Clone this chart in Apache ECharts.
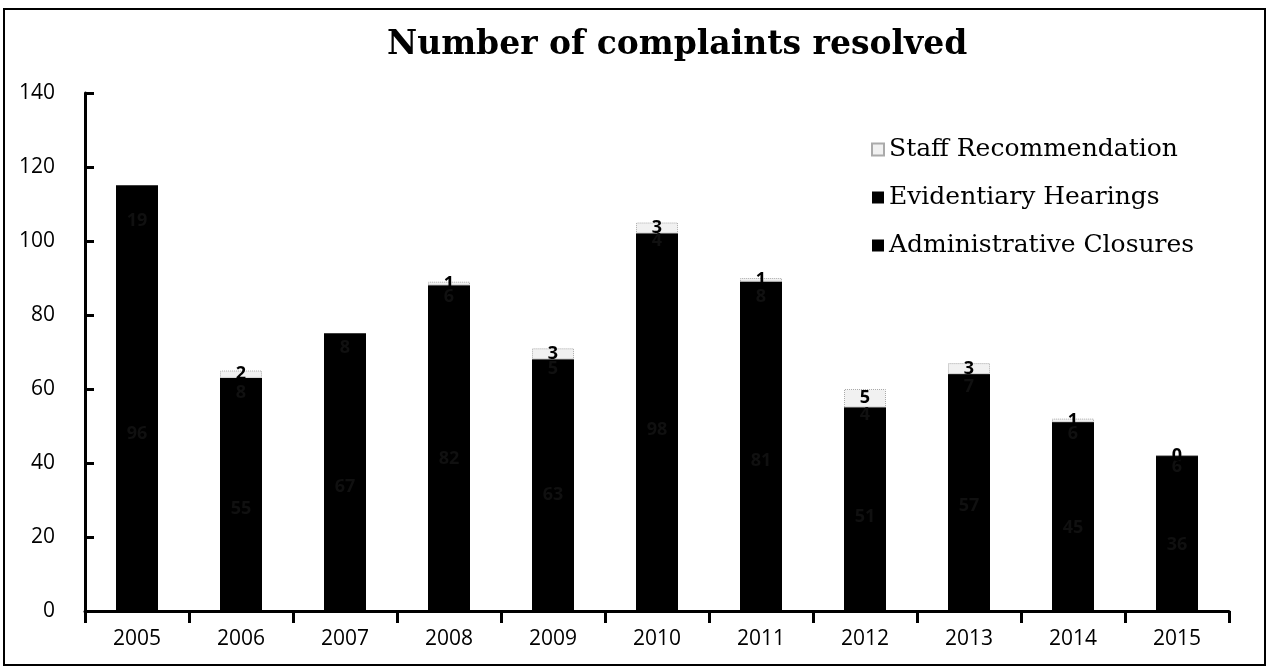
<!DOCTYPE html>
<html>
<head>
<meta charset="utf-8">
<script src="https://cdn.jsdelivr.net/npm/echarts@6/dist/echarts.min.js"></script>
<style>
html,body{margin:0;padding:0;background:#fff;}
#chart{width:1269px;height:667px;}
</style>
</head>
<body>
<div id="chart"></div>
<script>
const years = ['2005','2006','2007','2008','2009','2010','2011','2012','2013','2014','2015'];
const administrativeClosures = [96, 55, 67, 82, 63, 98, 81, 51, 57, 45, 36];
const evidentiaryHearings    = [19,  8,  8,  6,  5,  4,  8,  4,  7,  6,  6];
const staffRecommendation    = [null, 2, null, 1, 3, 3, 1, 5, 3, 1, 0];
const yTicks = [0, 20, 40, 60, 80, 100, 120, 140];

// black underlay (admin + evidentiary) to hide anti-aliasing seams between the two black segments
const blackTotal = administrativeClosures.map((v, i) => v + evidentiaryHearings[i]);

const chart = echarts.init(document.getElementById('chart'));
const sans = '"Open Sans", "DejaVu Sans", sans-serif';
const serif = '"DejaVu Serif", "Liberation Serif", serif';

chart.setOption({
  backgroundColor: '#ffffff',
  animation: false,
  title: {
    text: 'Number of complaints resolved',
    left: 382,
    top: 24,
    textStyle: { fontFamily: serif, fontSize: 33, fontWeight: 'bold', color: '#000' }
  },
  legend: {
    orient: 'vertical',
    left: 866,
    top: 132,
    itemWidth: 12,
    itemHeight: 12,
    itemGap: 23,
    icon: 'rect',
    data: ['Staff Recommendation', 'Evidentiary Hearings', 'Administrative Closures'],
    textStyle: { fontFamily: serif, fontSize: 25, color: '#000' }
  },
  grid: { left: 85, right: 40, top: 93, bottom: 56 },
  xAxis: {
    type: 'category',
    data: years,
    axisLine: { lineStyle: { color: '#000', width: 3 } },
    axisTick: { show: true, alignWithLabel: false, length: 12, lineStyle: { color: '#000', width: 3 } },
    axisLabel: { fontFamily: sans, fontSize: 21, color: '#000', margin: 18 }
  },
  yAxis: {
    type: 'value',
    min: yTicks[0],
    max: yTicks[yTicks.length - 1],
    interval: 20,
    axisLine: { show: true, lineStyle: { color: '#000', width: 3 } },
    axisTick: { show: true, inside: true, length: 9, lineStyle: { color: '#000', width: 3 } },
    splitLine: { show: false },
    axisLabel: { fontFamily: sans, fontSize: 21, color: '#000', margin: 30 }
  },
  graphic: [{
    type: 'rect',
    shape: { x: 4, y: 9, width: 1261, height: 656 },
    style: { fill: 'none', stroke: '#000', lineWidth: 2 },
    silent: true
  }],
  series: [
    {
      name: 'Administrative Closures',
      type: 'bar',
      stack: 'total',
      barWidth: 42,
      barGap: '-100%',
      z: 3,
      data: administrativeClosures,
      itemStyle: { color: '#000' },
      label: { show: true, position: 'inside', color: '#101010', fontFamily: sans, fontSize: 18, fontWeight: 'bold' }
    },
    {
      name: 'Evidentiary Hearings',
      type: 'bar',
      stack: 'total',
      z: 3,
      data: evidentiaryHearings,
      itemStyle: { color: '#000' },
      label: { show: true, position: 'inside', color: '#101010', fontFamily: sans, fontSize: 18, fontWeight: 'bold' }
    },
    {
      name: 'Staff Recommendation',
      type: 'bar',
      stack: 'total',
      z: 3,
      data: staffRecommendation,
      itemStyle: { color: '#f1f1f1', borderColor: '#aaa', borderWidth: 1, borderType: 'dotted' },
      label: {
        show: true, position: 'inside', color: '#000', fontFamily: sans, fontSize: 18, fontWeight: 'bold',
        formatter: p => (p.value === null || p.value === undefined) ? '' : String(p.value)
      }
    },
    {
      name: 'underlay',
      type: 'bar',
      barWidth: 42,
      barGap: '-100%',
      z: 1,
      silent: true,
      data: blackTotal,
      itemStyle: { color: '#000' },
      label: { show: false }
    }
  ]
});
</script>
</body>
</html>
